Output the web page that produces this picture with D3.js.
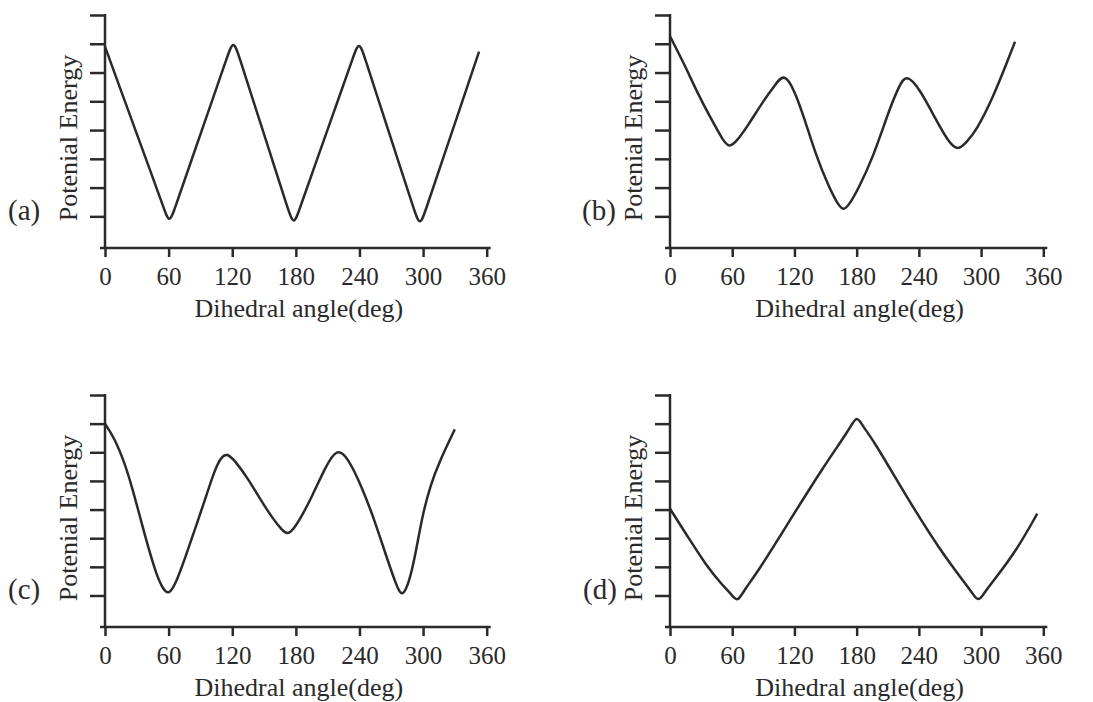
<!DOCTYPE html>
<html>
<head>
<meta charset="utf-8">
<script src="https://cdn.jsdelivr.net/npm/d3@7"></script>
<style>
  html, body { margin: 0; padding: 0; background: #fff; }
  svg { display: block; }
  text { font-family: "Liberation Serif", "Times New Roman", serif; fill: #2a2a2a; }
</style>
</head>
<body>
<svg id="chart" width="1093" height="702"></svg>
<script>
// ---- data (spline control values) ----
const xTicks = [0, 60, 120, 180, 240, 300, 360];
const yTicks = [0, 1, 2, 3, 4, 5, 6, 7];
const panelLabels = ["(a)", "(b)", "(c)", "(d)"];
const xTitle = "Dihedral angle(deg)";
const yTitle = "Potenial Energy";

const anglesA = [0, 15, 30, 45, 55.2, 60.7, 66.2, 82, 98, 115.5, 121, 126.5, 142, 157, 172.5, 178, 183.5, 200, 217, 234, 239.5, 245, 260, 276, 291.5, 297, 302.5, 319, 336, 352.8];
const energyA = [5.90, 4.38, 2.87, 1.35, 0.32, -0.28, 0.32, 2.0, 3.7, 5.56, 6.16, 5.56, 3.77, 2.05, 0.26, -0.34, 0.26, 1.98, 3.75, 5.52, 6.12, 5.52, 3.81, 1.99, 0.23, -0.37, 0.23, 2.03, 3.89, 5.73];

const anglesB = [0, 13.7, 28.9, 44, 50.5, 57.1, 64, 74.4, 89.6, 101.8, 110.3, 120, 129.1, 141.3, 153.4, 161, 167.1, 173, 180.8, 196, 211.2, 220.3, 227.8, 241.5, 256.7, 268, 277.4, 286, 295.7, 311.8, 324.6, 332.7];
const energyB = [6.26, 5.3, 4.10, 3.11, 2.68, 2.38, 2.6, 3.11, 3.99, 4.6, 4.98, 4.38, 3.46, 2.06, 1.01, 0.47, 0.18, 0.42, 0.90, 2.06, 3.69, 4.48, 4.98, 4.39, 3.34, 2.62, 2.27, 2.58, 3.0, 4.16, 5.32, 6.07];

const anglesC = [0, 9.1, 18.2, 25.8, 33.4, 41, 48.6, 54.7, 60.2, 66.9, 76, 85.1, 94.2, 103.3, 109.4, 114.9, 123.1, 133.8, 145.9, 158.1, 167.2, 173.3, 183.7, 195.8, 208, 218.7, 229.3, 241.5, 253.7, 265.9, 275, 280.5, 287.2, 293.3, 299.4, 307, 314.6, 329.9];
const energyC = [6.0, 5.48, 4.66, 3.75, 2.69, 1.65, 0.72, 0.22, 0.02, 0.43, 1.36, 2.34, 3.33, 4.37, 4.82, 4.98, 4.68, 4.14, 3.39, 2.69, 2.27, 2.08, 2.63, 3.50, 4.49, 5.16, 4.8, 3.85, 2.69, 1.30, 0.33, -0.08, 0.49, 1.53, 2.81, 3.85, 4.61, 5.80];

const anglesD = [0, 19.3, 35, 50, 59, 65.3, 71.5, 83.6, 115.7, 147.9, 174, 180, 186, 196.1, 228.2, 260.4, 286.1, 291, 297.3, 303.5, 311.8, 334.3, 354.2];
const energyD = [3.03, 1.93, 1.05, 0.38, 0.05, -0.25, 0.2, 0.76, 2.63, 4.49, 5.85, 6.3, 5.9, 5.43, 3.44, 1.58, 0.35, 0.12, -0.25, 0.12, 0.5, 1.58, 2.86];

// ---- layout ----
const panels = [
  { label: panelLabels[0], angles: anglesA, energy: energyA, x0: 105, x1: 486.7, top: 15,  axisY: 248, labelX: 8 },
  { label: panelLabels[1], angles: anglesB, energy: energyB, x0: 670, x1: 1043.3, top: 15, axisY: 248, labelX: 582 },
  { label: panelLabels[2], angles: anglesC, energy: energyC, x0: 105, x1: 486.7, top: 395, axisY: 627, labelX: 8 },
  { label: panelLabels[3], angles: anglesD, energy: energyD, x0: 670, x1: 1043.3, top: 395, axisY: 627, labelX: 583 }
];

const ink = "#2a2a2a";
const svg = d3.select("#chart");

panels.forEach(p => {
  const g = svg.append("g");
  const x = d3.scaleLinear().domain([0, 360]).range([p.x0, p.x1]);
  const y = d3.scaleLinear().domain([-1.1, 7]).range([p.axisY, p.top]);

  // x axis
  const xAxis = d3.axisBottom(x).tickValues(xTicks).tickSizeInner(9).tickSizeOuter(0).tickPadding(10);
  const gx = g.append("g").attr("transform", `translate(0,${p.axisY})`).call(xAxis);
  gx.select(".domain").remove();
  gx.selectAll(".tick line").attr("stroke", ink).attr("stroke-width", 2.5);
  gx.selectAll(".tick text").attr("font-size", 25).attr("fill", ink)
    .style("font-family", '"Liberation Serif", "Times New Roman", serif');
  g.append("line")
    .attr("x1", p.x0 - 5).attr("x2", p.x1 + 4)
    .attr("y1", p.axisY).attr("y2", p.axisY)
    .attr("stroke", ink).attr("stroke-width", 2.5);

  // y axis
  const yAxis = d3.axisLeft(y).tickValues(yTicks).tickSizeInner(15).tickSizeOuter(0).tickFormat("");
  const gy = g.append("g").attr("transform", `translate(${p.x0},0)`).call(yAxis);
  gy.select(".domain").remove();
  gy.selectAll(".tick line").attr("stroke", ink).attr("stroke-width", 2.5);
  g.append("line")
    .attr("x1", p.x0).attr("x2", p.x0)
    .attr("y1", y(7) - 1).attr("y2", p.axisY)
    .attr("stroke", ink).attr("stroke-width", 2.5);

  // curve
  const pts = p.angles.map((a, i) => [a, p.energy[i]]);
  const line = d3.line().x(d => x(d[0])).y(d => y(d[1])).curve(d3.curveBasis);
  g.append("path").datum(pts)
    .attr("d", line)
    .attr("fill", "none")
    .attr("stroke", ink)
    .attr("stroke-width", 2.5)
    .attr("stroke-linejoin", "round");

  // titles
  g.append("text")
    .attr("x", (p.x0 + p.x1) / 2 + 3)
    .attr("y", p.axisY + 69)
    .attr("text-anchor", "middle")
    .attr("font-size", 26)
    .text(xTitle);

  g.append("text")
    .attr("transform", `translate(${p.x0 - 28},${p.top + 123}) rotate(-90)`)
    .attr("text-anchor", "middle")
    .attr("font-size", 26)
    .text(yTitle);

  g.append("text")
    .attr("x", p.labelX)
    .attr("y", p.axisY - 28)
    .attr("font-size", 29)
    .text(p.label);
});
</script>
</body>
</html>
